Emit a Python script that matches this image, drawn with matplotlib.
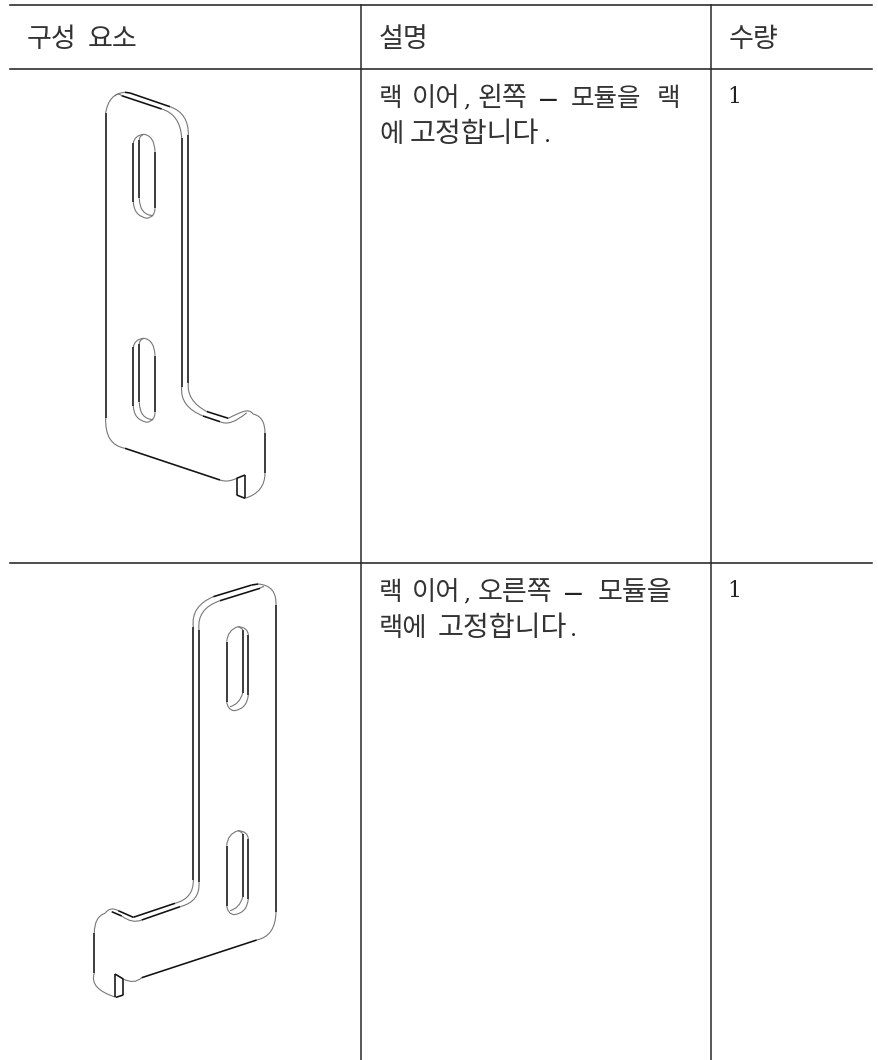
import matplotlib
matplotlib.use('Agg')
import matplotlib.pyplot as plt
import numpy as np
from matplotlib.path import Path
from matplotlib.patches import PathPatch

plt.rcParams['font.family'] = ['Noto Sans CJK KR', 'DejaVu Sans']

headers = ['구성', '요소', '설명', '수량']
headers_x = [27, 88, 379, 729]
quantities = ['1', '1']

# description text, split in words because the spacing in the picture is uneven
row1_line1 = ['랙', '이어', ',', '왼쪽', '—', '모듈을', '랙']
row1_line1_x = [379, 412, 463.5, 478, 539, 571, 657]
row1_line1_size = [18.5, 19, 15.8, 19.5, 13.5, 18.4, 18.5]
row1_line2 = ['에', '고정합니다', '.']
row1_line2_x = [379, 410, 544]
row1_line2_size = [19, 20.3, 15.8]
row2_line1 = ['랙', '이어', ',', '오른쪽', '—', '모듈을']
row2_line1_x = [379, 412, 463.5, 478, 564, 598]
row2_line1_size = [18.5, 19, 15.8, 19.5, 13.5, 19.5]
row2_line2 = ['랙에', '고정합니다', '.']
row2_line2_x = [379, 438, 570]
row2_line2_size = [19, 20.3, 15.8]

# bracket outlines in picture pixels: 2 points = straight edge, 3 points = curve through the middle one
left_ear = [
    [(105.7, 418), (105.7, 113)],
    [(105.7, 113), (112, 98), (125, 92.3)],
    [(125, 92.3), (130, 93)],
    [(130, 93), (170, 106.7)],
    [(170, 106.7), (184, 117), (188.3, 135)],
    [(188.3, 135), (188.3, 383)],
    [(188.3, 383), (192, 399), (206.7, 411.5)],
    [(206.7, 411.5), (228.3, 418.3)],
    [(228.3, 418.3), (237, 414), (243, 411.7)],
    [(243, 411.7), (249, 411), (253, 414)],
    [(253, 414), (262, 420), (265, 433)],
    [(265, 433), (265, 473)],
    [(265, 473), (260, 489), (245, 498.3)],
    [(245, 498.3), (236.7, 495)],
    [(236.7, 495), (236.7, 478.3)],
    [(236.7, 478.3), (245, 475)],
    [(245, 475), (245, 498.3)],
    [(236.7, 478.3), (228, 481), (220, 480)],
    [(220, 480), (125, 448.3)],
    [(125, 448.3), (110, 439), (105.7, 418)],
    # front edge
    [(121.7, 95.7), (161.7, 109)],
    [(161.7, 109), (176, 119), (181.7, 138)],
    [(181.7, 138), (181.7, 387)],
    [(181.7, 387), (186, 404), (203, 416)],
    [(203, 416), (220, 421.7)],
    [(220, 421.7), (232, 422), (246.7, 412.7)],
    [(121.7, 95.7), (118, 94), (115, 96)],
]
right_ear = [
    [(276, 911.7), (276, 605)],
    [(276, 605), (272, 590), (258.3, 584)],
    [(258.3, 584), (251.7, 585)],
    [(251.7, 585), (213.3, 596.7)],
    [(213.3, 596.7), (197, 609), (193.3, 627)],
    [(193.3, 627), (193.3, 880)],
    [(193.3, 880), (189, 895), (175, 903.3)],
    [(175, 903.3), (133.3, 917.3)],
    [(133.3, 917.3), (118.3, 910.7)],
    [(118.3, 910.7), (111, 909), (105, 913.3)],
    [(105, 913.3), (97, 920), (94.3, 933)],
    [(94.3, 933), (94.3, 973)],
    [(94.3, 973), (97, 987), (116, 997.3)],
    [(115, 974), (115, 996.7)],
    [(115, 974), (123.3, 979)],
    [(123.3, 979), (123.3, 995)],
    [(123.3, 995), (116, 997.3)],
    [(123.3, 979), (133.3, 981.5), (141.7, 977.7)],
    [(141.7, 977.7), (256.7, 940)],
    [(256.7, 940), (271, 931), (276, 911.7)],
    # front edge
    [(260, 588.3), (220, 600.7)],
    [(220, 600.7), (203, 612), (199, 630)],
    [(199, 630), (199, 882)],
    [(199, 882), (195, 898), (180, 906.7)],
    [(180, 906.7), (141.7, 920)],
    [(141.7, 920), (132, 921), (121.7, 916)],
    [(121.7, 916), (111.7, 911.7)],
    [(260, 588.3), (262, 587), (264, 586.5)],
]
left_slot = [
    [(133.3, 143.3), (133.3, 201.7)],
    [(155, 151.7), (155, 208.3)],
    [(139.3, 140), (139.3, 198.3)],
    [(133.3, 143.3), (136.5, 137), (144, 134.3)],
    [(144, 134.3), (152, 139.5), (155, 151.7)],
    [(139.3, 140), (140.5, 136.5), (144, 134.3)],
    [(133.3, 201.7), (137, 213), (147, 218.3)],
    [(147, 218.3), (153, 215), (155, 208.3)],
    [(139.3, 198.3), (143, 211), (153.3, 215.7)],
]
right_slot = [
    [(226.7, 641.7), (226.7, 701.7)],
    [(248.3, 635), (248.3, 695)],
    [(242.7, 630), (242.7, 693)],
    [(226.7, 641.7), (230, 632), (238, 626.7)],
    [(238, 626.7), (245.5, 629), (248.3, 635)],
    [(242.7, 630), (241, 628), (238, 626.7)],
    [(226.7, 701.7), (229, 708), (234, 710.7)],
    [(234, 710.7), (244, 706), (248.3, 695)],
    [(242.7, 693), (238, 702), (230, 706.7)],
]
slot_gap = 204


def draw_segments(ax, segments, dy=0):
    for seg in segments:
        pts = np.array(seg, dtype=float) + [0, dy]
        if len(pts) == 2:
            ax.plot(pts[:, 0], pts[:, 1], color='#111111', lw=1.15, solid_capstyle='butt')
        else:
            ctrl = 2 * pts[1] - 0.5 * (pts[0] + pts[2])
            path = Path([pts[0], ctrl, pts[2]], [Path.MOVETO, Path.CURVE3, Path.CURVE3])
            ax.add_patch(PathPatch(path, fc='none', ec='#777777', lw=0.8))


def draw_words(ax, words, xs, sizes, y):
    for word, x, size in zip(words, xs, sizes):
        if word == '—':
            ax.text(x, y - 1, word, fontsize=size, family=['DejaVu Serif'], weight='bold', color='#222222', va='baseline')
        elif word in [',', '.']:
            ax.text(x, y, word, fontsize=size, family=['DejaVu Serif'], color='#222222', va='baseline')
        else:
            ax.text(x, y, word, fontsize=size, color='#333333', va='baseline')


fig = plt.figure(figsize=(8.79, 10.6), dpi=100)
ax = fig.add_axes([0, 0, 1, 1])
ax.set_xlim(0, 879)
ax.set_ylim(1060, 0)
ax.axis('off')

# table rules
for y in [5, 69, 563]:
    ax.plot([10, 872], [y, y], color='#1c1c1c', lw=1.1)
for x in [361, 711.5]:
    ax.plot([x, x], [5, 1060], color='#2a2a2a', lw=1.1)

# header row
for x, label in zip(headers_x, headers):
    ax.text(x, 47, label, fontsize=19.5, color='#333333', va='baseline')

draw_words(ax, row1_line1, row1_line1_x, row1_line1_size, 106)
draw_words(ax, row1_line2, row1_line2_x, row1_line2_size, 142)
draw_words(ax, row2_line1, row2_line1_x, row2_line1_size, 600)
draw_words(ax, row2_line2, row2_line2_x, row2_line2_size, 636)
for qty, y in zip(quantities, [103, 597]):
    ax.text(727.5, y, qty, fontsize=15.8, family=['DejaVu Serif'], color='#222222', va='baseline')

draw_segments(ax, left_ear)
draw_segments(ax, left_slot)
draw_segments(ax, left_slot, slot_gap)
draw_segments(ax, right_ear)
draw_segments(ax, right_slot)
draw_segments(ax, right_slot, slot_gap)

fig.savefig('out.png', dpi=100)
